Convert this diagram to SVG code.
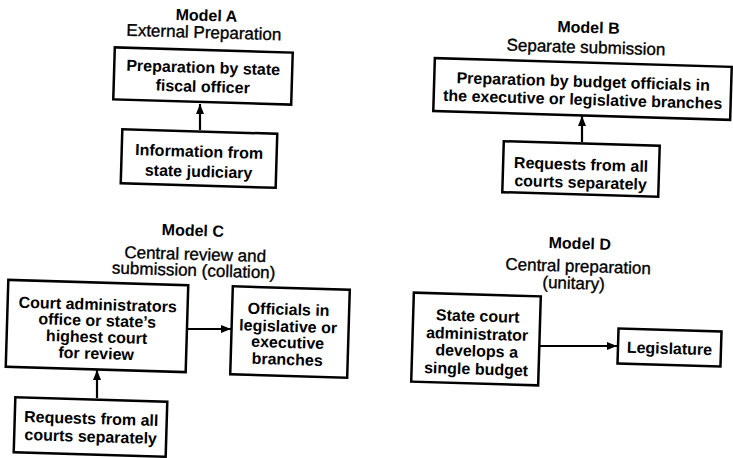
<svg xmlns="http://www.w3.org/2000/svg" width="733" height="458" viewBox="0 0 733 458">
<defs>
<style>
.box{fill:#fff;stroke:#000;stroke-width:2.5}
.t{font-family:"Liberation Sans",Arial,sans-serif;font-size:16px;font-weight:bold;text-anchor:middle;fill:#000}
.h{font-family:"Liberation Sans",Arial,sans-serif;font-size:16px;font-weight:bold;text-anchor:middle;fill:#000}
.s{font-family:"Liberation Sans",Arial,sans-serif;font-size:17px;text-anchor:middle;fill:#000;stroke:#000;stroke-width:0.35}
.c{stroke:#000;stroke-width:2.2;fill:none}
</style>
<marker id="ah" markerUnits="userSpaceOnUse" markerWidth="10" markerHeight="8" refX="10" refY="4" orient="auto"><path d="M0,0 L10,4 L0,8 z" fill="#000"/></marker>
</defs>
<rect width="733" height="458" fill="#fff"/>

<g id="title-a" transform="rotate(1.7 205 30)">
<text class="h" x="206" y="21">Model A</text>
<text class="s" x="204" y="38">External Preparation</text>
</g>
<g id="title-b" transform="rotate(1.7 587 45)">
<text class="h" x="588" y="33">Model B</text>
<text class="s" x="586" y="53">Separate submission</text>
</g>
<g id="title-c" transform="rotate(1.7 194 260)">
<text class="h" x="192" y="236">Model C</text>
<text class="s" x="195" y="260">Central review and</text>
<text class="s" x="194" y="276">submission (collation)</text>
</g>
<g id="title-d" transform="rotate(1.7 578 270)">
<text class="h" x="579" y="249">Model D</text>
<text class="s" x="578" y="272">Central preparation</text>
<text class="s" x="574" y="289">(unitary)</text>
</g>

<g id="a1" transform="rotate(1.7 203 76)">
<rect class="box" x="114" y="50" width="178" height="52"/>
<text class="t" x="203" y="73">Preparation by state</text>
<text class="t" x="203" y="92">fiscal officer</text>
</g>
<g id="a2" transform="rotate(1.7 199 158.5)">
<rect class="box" x="121.5" y="131.5" width="155" height="54"/>
<text class="t" x="199" y="157">Information from</text>
<text class="t" x="199" y="177">state judiciary</text>
</g>

<g id="b1" transform="rotate(1.7 583 89)">
<rect class="box" x="434" y="62.5" width="297" height="53"/>
<text class="t" x="583" y="87">Preparation by budget officials in</text>
<text class="t" x="583" y="105">the executive or legislative branches</text>
</g>
<g id="b2" transform="rotate(1.7 581 169)">
<rect class="box" x="503" y="143.5" width="156" height="51"/>
<text class="t" x="581" y="170">Requests from all</text>
<text class="t" x="581" y="188">courts separately</text>
</g>

<g id="c1" transform="rotate(1.7 97 326)">
<rect class="box" x="7" y="282.5" width="180" height="87"/>
<text class="t" x="97" y="310">Court administrators</text>
<text class="t" x="97" y="326">office or state’s</text>
<text class="t" x="97" y="342.5">highest court</text>
<text class="t" x="97" y="359">for review</text>
</g>
<g id="c2" transform="rotate(1.7 290 332)">
<rect class="box" x="231.5" y="288" width="117" height="88"/>
<text class="t" x="288" y="315">Officials in</text>
<text class="t" x="288" y="332">legislative or</text>
<text class="t" x="288" y="348">executive</text>
<text class="t" x="288" y="365">branches</text>
</g>
<g id="c3" transform="rotate(1.7 90.5 427)">
<rect class="box" x="14.5" y="399.5" width="152" height="55"/>
<text class="t" x="91" y="424">Requests from all</text>
<text class="t" x="91" y="442">courts separately</text>
</g>

<g id="d1" transform="rotate(1.7 476 339)">
<rect class="box" x="412.5" y="294.5" width="127" height="89"/>
<text class="t" x="477" y="321.5">State court</text>
<text class="t" x="477" y="339.5">administrator</text>
<text class="t" x="477" y="356.5">develops a</text>
<text class="t" x="477" y="374.5">single budget</text>
</g>
<g id="d2" transform="rotate(1.7 669.5 347.5)">
<rect class="box" x="618" y="330" width="103" height="35"/>
<text class="t" x="669.5" y="354">Legislature</text>
</g>

<g id="connectors">
<path class="c" d="M200,130 L200,104" marker-end="url(#ah)"/>
<path class="c" d="M582,142 L582,116" marker-end="url(#ah)"/>
<path class="c" d="M97,398 L97,370" marker-end="url(#ah)"/>
<path class="c" d="M188,329 L231,329" marker-end="url(#ah)"/>
<path class="c" d="M540,346 L617,346" marker-end="url(#ah)"/>
</g>
</svg>
